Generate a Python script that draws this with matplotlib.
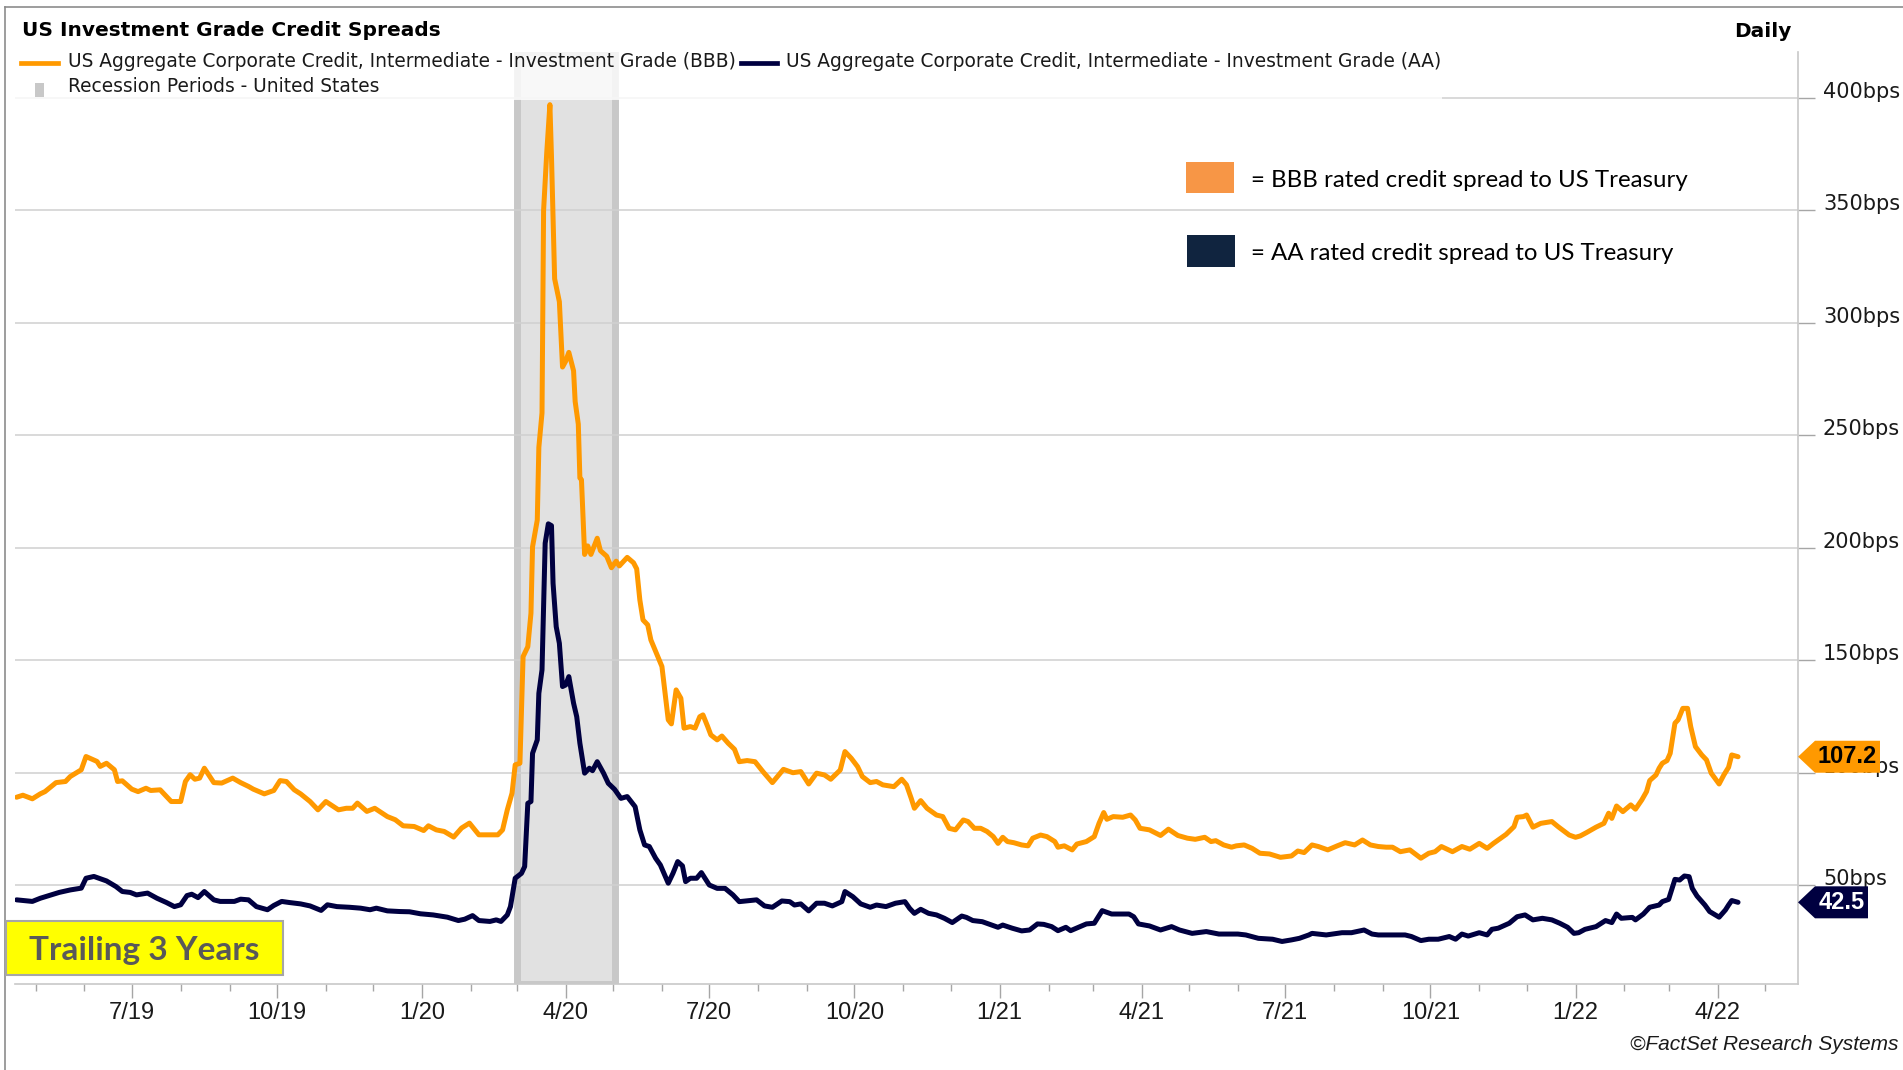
import matplotlib
matplotlib.use("Agg")
import matplotlib.pyplot as plt
import matplotlib.dates as mdates
import matplotlib.ticker as mticker
from matplotlib.patches import Rectangle, Polygon
from matplotlib.lines import Line2D
import pandas as pd

plt.rcParams['font.family'] = ['Liberation Sans', 'DejaVu Sans']

# ---------------- data ----------------
bbb_dates = [
    "2019-04-19", "2019-04-23", "2019-04-29", "2019-05-04", "2019-05-07", "2019-05-11", "2019-05-14",
    "2019-05-20", "2019-05-23", "2019-05-30", "2019-06-02", "2019-06-09", "2019-06-11", "2019-06-15",
    "2019-06-20", "2019-06-22", "2019-06-25", "2019-07-01", "2019-07-05", "2019-07-10", "2019-07-13",
    "2019-07-19", "2019-07-26", "2019-08-01", "2019-08-04", "2019-08-07", "2019-08-10", "2019-08-13",
    "2019-08-16", "2019-08-22", "2019-08-27", "2019-09-03", "2019-09-08", "2019-09-13", "2019-09-16",
    "2019-09-23", "2019-09-29", "2019-10-03", "2019-10-07", "2019-10-12", "2019-10-16", "2019-10-22",
    "2019-10-27", "2019-11-01", "2019-11-09", "2019-11-14", "2019-11-18", "2019-11-21", "2019-11-27",
    "2019-12-02", "2019-12-10", "2019-12-15", "2019-12-20", "2019-12-27", "2020-01-02", "2020-01-05",
    "2020-01-10", "2020-01-15", "2020-01-21", "2020-01-26", "2020-01-31", "2020-02-06", "2020-02-12",
    "2020-02-18", "2020-02-21", "2020-02-24", "2020-02-27", "2020-02-29", "2020-03-03", "2020-03-05",
    "2020-03-08", "2020-03-10", "2020-03-11", "2020-03-14", "2020-03-15", "2020-03-17", "2020-03-18",
    "2020-03-20", "2020-03-22", "2020-03-23", "2020-03-25", "2020-03-28", "2020-03-30", "2020-04-01",
    "2020-04-03", "2020-04-06", "2020-04-07", "2020-04-09", "2020-04-10", "2020-04-11", "2020-04-13",
    "2020-04-15", "2020-04-17", "2020-04-21", "2020-04-23", "2020-04-27", "2020-04-30", "2020-05-03",
    "2020-05-05", "2020-05-10", "2020-05-14", "2020-05-16", "2020-05-18", "2020-05-20", "2020-05-23",
    "2020-05-25", "2020-05-29", "2020-06-01", "2020-06-03", "2020-06-05", "2020-06-07", "2020-06-10",
    "2020-06-13", "2020-06-15", "2020-06-19", "2020-06-22", "2020-06-25", "2020-06-27", "2020-06-30",
    "2020-07-02", "2020-07-06", "2020-07-09", "2020-07-13", "2020-07-17", "2020-07-20", "2020-07-25",
    "2020-07-30", "2020-08-04", "2020-08-10", "2020-08-17", "2020-08-23", "2020-08-28", "2020-09-02",
    "2020-09-07", "2020-09-12", "2020-09-16", "2020-09-22", "2020-09-25", "2020-09-29", "2020-10-03",
    "2020-10-06", "2020-10-11", "2020-10-15", "2020-10-19", "2020-10-26", "2020-10-31", "2020-11-03",
    "2020-11-06", "2020-11-08", "2020-11-12", "2020-11-16", "2020-11-22", "2020-11-26", "2020-11-30",
    "2020-12-04", "2020-12-09", "2020-12-12", "2020-12-16", "2020-12-20", "2020-12-24", "2020-12-28",
    "2020-12-31", "2021-01-03", "2021-01-06", "2021-01-10", "2021-01-15", "2021-01-19", "2021-01-22",
    "2021-01-27", "2021-01-31", "2021-02-05", "2021-02-07", "2021-02-11", "2021-02-16", "2021-02-19",
    "2021-02-25", "2021-03-02", "2021-03-05", "2021-03-08", "2021-03-10", "2021-03-14", "2021-03-20",
    "2021-03-25", "2021-03-28", "2021-03-31", "2021-04-06", "2021-04-13", "2021-04-18", "2021-04-24",
    "2021-04-30", "2021-05-05", "2021-05-11", "2021-05-15", "2021-05-18", "2021-05-23", "2021-05-28",
    "2021-05-31", "2021-06-05", "2021-06-10", "2021-06-15", "2021-06-21", "2021-06-28", "2021-07-05",
    "2021-07-09", "2021-07-13", "2021-07-18", "2021-07-22", "2021-07-28", "2021-08-03", "2021-08-08",
    "2021-08-14", "2021-08-19", "2021-08-24", "2021-08-29", "2021-09-03", "2021-09-07", "2021-09-12",
    "2021-09-18", "2021-09-25", "2021-09-30", "2021-10-04", "2021-10-08", "2021-10-15", "2021-10-21",
    "2021-10-26", "2021-11-01", "2021-11-06", "2021-11-10", "2021-11-13", "2021-11-18", "2021-11-23",
    "2021-11-25", "2021-11-29", "2021-12-01", "2021-12-05", "2021-12-10", "2021-12-17", "2021-12-21",
    "2021-12-28", "2022-01-01", "2022-01-04", "2022-01-08", "2022-01-14", "2022-01-19", "2022-01-22",
    "2022-01-24", "2022-01-27", "2022-01-31", "2022-02-05", "2022-02-08", "2022-02-12", "2022-02-15",
    "2022-02-17", "2022-02-21", "2022-02-23", "2022-02-25", "2022-02-28", "2022-03-02", "2022-03-05",
    "2022-03-07", "2022-03-10", "2022-03-13", "2022-03-15", "2022-03-18", "2022-03-22", "2022-03-25",
    "2022-03-28", "2022-04-02", "2022-04-05", "2022-04-08", "2022-04-10", "2022-04-14",
]
bbb_values = [
    89.2, 90.1, 88.5, 90.7, 91.7, 94.0, 95.7,
    96.2, 98.4, 101.4, 107.3, 105.1, 102.9, 104.3,
    101.4, 96.2, 96.5, 92.8, 91.7, 93.2, 92.2,
    92.5, 87.3, 87.3, 96.2, 99.2, 97.2, 97.7,
    102.1, 95.7, 95.5, 97.7, 95.7, 94.0, 92.8,
    90.7, 92.2, 96.6, 96.2, 92.5, 90.7, 87.3,
    83.6, 87.3, 83.6, 84.3, 84.3, 86.6, 82.9,
    84.3, 80.6, 79.2, 76.5, 76.2, 74.4, 76.5,
    74.7, 74.0, 71.5, 75.5, 77.7, 72.5, 72.5,
    72.5, 74.7, 83.6, 91.0, 103.6, 104.3, 151.7,
    156.1, 171.0, 200.5, 212.4, 244.7, 260.0, 350.0,
    375.7, 397.0, 374.0, 319.6, 309.4, 280.4, 283.0,
    286.9, 278.7, 265.1, 255.0, 231.1, 230.3, 197.1,
    200.9, 197.1, 204.3, 198.8, 196.3, 191.2, 194.1,
    192.0, 195.8, 193.4, 190.7, 176.9, 168.0, 165.8,
    159.1, 152.4, 147.3, 135.4, 123.6, 121.8, 136.9,
    133.2, 119.9, 120.6, 119.9, 125.0, 125.8, 120.6,
    116.9, 114.7, 116.4, 113.2, 110.5, 105.0, 105.5,
    105.0, 100.6, 95.7, 101.6, 100.1, 100.6, 95.1,
    99.9, 99.1, 97.2, 101.3, 109.5, 106.5, 102.8,
    98.4, 95.7, 96.2, 94.7, 93.9, 97.2, 94.7,
    88.7, 84.3, 87.7, 84.3, 81.3, 80.6, 75.4,
    74.7, 79.1, 78.4, 75.4, 75.4, 74.0, 71.7,
    68.7, 71.4, 69.5, 69.0, 68.0, 67.6, 71.0,
    72.4, 71.7, 69.5, 67.0, 67.6, 65.8, 68.4,
    69.5, 71.7, 77.6, 82.4, 79.4, 80.6, 80.3,
    81.3, 79.1, 75.4, 74.7, 72.2, 75.0, 72.2,
    71.0, 70.5, 71.4, 69.5, 69.9, 68.0, 67.0,
    67.6, 68.0, 66.5, 64.3, 64.0, 62.5, 63.1,
    65.3, 64.6, 68.0, 67.3, 65.8, 67.6, 69.0,
    68.0, 70.2, 68.0, 67.3, 67.0, 67.0, 65.0,
    65.8, 62.1, 64.3, 65.0, 67.3, 65.0, 67.3,
    66.1, 68.7, 66.5, 68.7, 70.2, 72.7, 76.1,
    80.3, 80.6, 81.3, 75.9, 77.6, 78.4, 76.1,
    72.4, 71.4, 72.0, 73.5, 75.9, 77.6, 82.1,
    79.8, 85.3, 82.8, 85.8, 83.9, 88.0, 91.7,
    96.6, 99.1, 102.1, 104.3, 105.5, 108.7, 122.1,
    123.6, 128.7, 128.7, 120.6, 111.7, 108.0, 105.8,
    99.9, 95.1, 99.1, 102.5, 108.0, 107.2,
]

aa_dates = [
    "2019-04-19", "2019-04-29", "2019-05-04", "2019-05-11", "2019-05-16", "2019-05-23", "2019-05-30",
    "2019-06-02", "2019-06-07", "2019-06-15", "2019-06-21", "2019-06-25", "2019-06-30", "2019-07-04",
    "2019-07-11", "2019-07-17", "2019-07-23", "2019-07-28", "2019-08-01", "2019-08-05", "2019-08-08",
    "2019-08-12", "2019-08-16", "2019-08-22", "2019-08-26", "2019-09-04", "2019-09-08", "2019-09-13",
    "2019-09-18", "2019-09-25", "2019-09-29", "2019-10-04", "2019-10-09", "2019-10-16", "2019-10-22",
    "2019-10-29", "2019-11-02", "2019-11-08", "2019-11-16", "2019-11-23", "2019-11-29", "2019-12-03",
    "2019-12-10", "2019-12-18", "2019-12-24", "2019-12-31", "2020-01-08", "2020-01-17", "2020-01-24",
    "2020-01-28", "2020-02-02", "2020-02-06", "2020-02-13", "2020-02-17", "2020-02-20", "2020-02-24",
    "2020-02-26", "2020-02-29", "2020-03-04", "2020-03-06", "2020-03-08", "2020-03-10", "2020-03-11",
    "2020-03-14", "2020-03-15", "2020-03-17", "2020-03-19", "2020-03-21", "2020-03-23", "2020-03-24",
    "2020-03-26", "2020-03-28", "2020-03-30", "2020-04-01", "2020-04-03", "2020-04-06", "2020-04-08",
    "2020-04-10", "2020-04-13", "2020-04-16", "2020-04-18", "2020-04-21", "2020-04-25", "2020-04-28",
    "2020-05-02", "2020-05-06", "2020-05-10", "2020-05-15", "2020-05-18", "2020-05-21", "2020-05-24",
    "2020-05-28", "2020-05-31", "2020-06-05", "2020-06-08", "2020-06-11", "2020-06-14", "2020-06-16",
    "2020-06-19", "2020-06-23", "2020-06-26", "2020-07-01", "2020-07-06", "2020-07-11", "2020-07-16",
    "2020-07-20", "2020-07-31", "2020-08-05", "2020-08-10", "2020-08-16", "2020-08-21", "2020-08-24",
    "2020-08-28", "2020-09-02", "2020-09-07", "2020-09-12", "2020-09-17", "2020-09-23", "2020-09-25",
    "2020-09-30", "2020-10-05", "2020-10-11", "2020-10-15", "2020-10-21", "2020-10-27", "2020-11-02",
    "2020-11-05", "2020-11-08", "2020-11-12", "2020-11-17", "2020-11-22", "2020-11-27", "2020-12-02",
    "2020-12-08", "2020-12-11", "2020-12-15", "2020-12-21", "2020-12-25", "2020-12-31", "2021-01-03",
    "2021-01-09", "2021-01-15", "2021-01-20", "2021-01-25", "2021-01-29", "2021-02-03", "2021-02-07",
    "2021-02-12", "2021-02-15", "2021-02-21", "2021-02-25", "2021-03-02", "2021-03-07", "2021-03-13",
    "2021-03-18", "2021-03-24", "2021-03-27", "2021-03-30", "2021-04-06", "2021-04-13", "2021-04-20",
    "2021-04-25", "2021-05-03", "2021-05-12", "2021-05-20", "2021-06-01", "2021-06-06", "2021-06-14",
    "2021-06-23", "2021-06-29", "2021-07-05", "2021-07-10", "2021-07-16", "2021-07-18", "2021-07-27",
    "2021-08-06", "2021-08-12", "2021-08-20", "2021-08-25", "2021-08-29", "2021-09-07", "2021-09-15",
    "2021-09-19", "2021-09-25", "2021-09-30", "2021-10-06", "2021-10-13", "2021-10-17", "2021-10-21",
    "2021-10-25", "2021-11-01", "2021-11-06", "2021-11-09", "2021-11-13", "2021-11-20", "2021-11-25",
    "2021-11-30", "2021-12-05", "2021-12-11", "2021-12-17", "2021-12-22", "2021-12-27", "2021-12-31",
    "2022-01-03", "2022-01-07", "2022-01-14", "2022-01-20", "2022-01-24", "2022-01-27", "2022-01-30",
    "2022-02-06", "2022-02-08", "2022-02-13", "2022-02-17", "2022-02-23", "2022-02-25", "2022-03-01",
    "2022-03-05", "2022-03-08", "2022-03-11", "2022-03-14", "2022-03-16", "2022-03-19", "2022-03-24",
    "2022-03-27", "2022-04-02", "2022-04-06", "2022-04-08", "2022-04-10", "2022-04-14",
]
aa_values = [
    43.6, 42.9, 44.3, 45.8, 46.9, 48.0, 48.8,
    53.2, 54.0, 52.0, 49.5, 47.3, 46.9, 45.8,
    46.6, 44.3, 42.4, 40.6, 41.4, 45.5, 46.1,
    44.6, 47.3, 43.6, 42.9, 42.9, 43.9, 43.6,
    40.6, 39.2, 41.1, 42.9, 42.4, 41.8, 40.9,
    38.9, 41.4, 40.6, 40.3, 39.9, 39.2, 39.9,
    38.7, 38.4, 38.3, 37.4, 36.9, 35.9, 34.4,
    35.0, 36.6, 34.4, 34.0, 34.7, 34.0, 36.9,
    40.6, 53.2, 55.4, 58.4, 86.5, 87.3, 108.7,
    114.7, 135.4, 145.8, 202.1, 210.7, 209.9, 184.3,
    165.0, 157.6, 138.4, 139.1, 142.8, 131.0, 125.0,
    113.2, 99.9, 102.1, 101.0, 105.0, 99.9, 95.4,
    92.7, 88.7, 89.5, 85.0, 74.7, 68.0, 67.3,
    62.1, 59.1, 51.0, 55.4, 60.6, 58.7, 51.7,
    53.2, 53.2, 55.7, 50.2, 48.7, 48.7, 45.8,
    42.8, 43.6, 40.9, 40.3, 43.1, 42.8, 41.3,
    41.8, 38.7, 42.1, 42.1, 40.9, 42.8, 47.3,
    45.0, 41.8, 40.3, 41.3, 40.6, 42.1, 42.8,
    39.8, 37.6, 39.4, 37.6, 36.9, 35.4, 33.5,
    36.4, 35.8, 34.4, 33.9, 32.9, 31.4, 32.4,
    31.0, 29.8, 30.2, 32.9, 32.7, 31.7, 29.9,
    31.4, 29.9, 31.7, 32.9, 33.2, 38.8, 37.3,
    37.3, 37.3, 36.1, 32.9, 32.0, 30.2, 31.7,
    30.2, 28.7, 29.5, 28.4, 28.4, 28.0, 26.5,
    26.1, 25.1, 25.8, 26.5, 28.0, 28.7, 28.0,
    29.0, 29.0, 30.2, 28.4, 28.0, 28.0, 28.0,
    27.3, 25.5, 26.1, 26.1, 27.3, 26.1, 28.4,
    27.5, 29.0, 28.0, 30.5, 31.0, 33.2, 36.1,
    36.9, 34.7, 35.4, 34.7, 33.2, 31.4, 28.7,
    29.0, 30.5, 31.7, 34.4, 33.5, 37.3, 35.4,
    35.8, 34.7, 37.3, 40.3, 41.3, 42.8, 43.8,
    52.7, 52.4, 54.2, 53.9, 48.7, 45.3, 41.3,
    38.4, 35.9, 39.1, 41.3, 43.3, 42.5,
]

recession_start = "2020-03-01"
recession_end = "2020-05-02"
ytick_values = [50, 100, 150, 200, 250, 300, 350, 400]
x_start, x_end = "2019-04-18", "2022-05-22"
y_min, y_max = 6.2, 420.4

title = "US Investment Grade Credit Spreads"
bbb_label = "US Aggregate Corporate Credit, Intermediate - Investment Grade (BBB)"
aa_label = "US Aggregate Corporate Credit, Intermediate - Investment Grade (AA)"
rec_label = "Recession Periods - United States"
bbb_note = "= BBB rated credit spread to US Treasury"
aa_note = "= AA rated credit spread to US Treasury"

# ---------------- style ----------------
ORANGE = "#FF9900"
NAVY = "#000040"
W, H = 1903, 1070


def fx(x):
    return x / W


def fy(y):
    return 1 - y / H


fig = plt.figure(figsize=(W / 100, H / 100), dpi=100)
ax = fig.add_axes([fx(15), fy(984), fx(1798) - fx(15), fy(52) - fy(984)])

bbb = pd.Series(bbb_values, index=pd.to_datetime(bbb_dates))
aa = pd.Series(aa_values, index=pd.to_datetime(aa_dates))

ax.axvspan(pd.Timestamp(recession_start), pd.Timestamp(recession_end),
           facecolor="#E1E1E1", edgecolor="#C8C8C8", linewidth=5, zorder=1)

ax.plot(bbb.index, bbb.values, color=ORANGE, lw=3.6, zorder=3,
        solid_joinstyle="round", solid_capstyle="round")
ax.plot(aa.index, aa.values, color=NAVY, lw=3.6, zorder=3,
        solid_joinstyle="round", solid_capstyle="round")

ax.set_xlim(pd.Timestamp(x_start), pd.Timestamp(x_end))
ax.set_ylim(y_min, y_max)

# legend backdrop (semi-transparent white) at top of plot
ax.add_patch(Rectangle((0, (984 - 100) / 932), (1442 - 15) / 1783, 1,
                       transform=ax.transAxes, facecolor="white", alpha=0.8,
                       edgecolor="none", zorder=1.7, clip_on=True))

# grid & spines
ax.yaxis.grid(True, color="#D0D0D0", lw=1.1)
ax.xaxis.grid(False)
for s in ["left", "top"]:
    ax.spines[s].set_visible(False)
for s in ["bottom", "right"]:
    ax.spines[s].set_color("#C8C8C8")
    ax.spines[s].set_linewidth(1.2)

# y axis on right
ax.yaxis.tick_right()
ax.set_yticks(ytick_values, labels=[f"{v}bps" for v in ytick_values])
ax.tick_params(axis="y", length=12, width=1, color="#A6A6A6", pad=6,
               labelsize=15, labelcolor="#1A1A1A", labelfontfamily="DejaVu Sans")
for lab in ax.get_yticklabels():
    lab.set_va("baseline")

# x axis
ax.xaxis.set_major_locator(mdates.MonthLocator(bymonth=[1, 4, 7, 10]))
ax.xaxis.set_minor_locator(mdates.MonthLocator())
ax.xaxis.set_major_formatter(mticker.FuncFormatter(
    lambda v, pos: f"{mdates.num2date(v).month}/{mdates.num2date(v):%y}"))
ax.tick_params(axis="x", which="major", length=10, width=1, color="#A6A6A6",
               pad=3, labelsize=17, labelcolor="#1A1A1A")
ax.tick_params(axis="x", which="minor", length=5, width=1, color="#A6A6A6")

# end-value tags
ytrans = ax.get_yaxis_transform()
axw = 1783.0


def tag(value, fill, tcolor, width_px):
    head = 17 / axw
    w = width_px / axw
    h = 16 / 2.25
    verts = [(1.0, value), (1.0 + head, value + h), (1.0 + w, value + h),
             (1.0 + w, value - h), (1.0 + head, value - h)]
    ax.add_patch(Polygon(verts, closed=True, transform=ytrans, facecolor=fill,
                         edgecolor="none", clip_on=False, zorder=10))
    ax.text(1.0 + w - 3 / axw, value, f"{value:.1f}", transform=ytrans,
            ha="right", va="center", color=tcolor, fontsize=17,
            fontweight="bold", zorder=11, clip_on=False)


tag(bbb.values[-1], ORANGE, "black", 82)
tag(aa.values[-1], NAVY, "white", 70)

# ---------------- figure decorations ----------------
fig.add_artist(Line2D([fx(5), 1], [fy(7), fy(7)], color="#8C8C8C", lw=1.2))
fig.add_artist(Line2D([fx(5), fx(5)], [fy(7), 0], color="#8C8C8C", lw=1.2))

fig.text(fx(22), fy(36), title, fontsize=14.5, fontweight="bold",
         family="DejaVu Sans", va="baseline", ha="left")
fig.text(fx(1792), fy(37), "Daily", fontsize=14.5, fontweight="bold",
         family="DejaVu Sans", va="baseline", ha="right")

fig.add_artist(Line2D([fx(21), fx(58)], [fy(63), fy(63)], color=ORANGE, lw=3.4))
fig.text(fx(68), fy(67), bbb_label, fontsize=13.4, family="DejaVu Sans",
         va="baseline", ha="left", color="#1A1A1A")
fig.add_artist(Line2D([fx(741), fx(777)], [fy(63), fy(63)], color=NAVY, lw=3.4))
fig.text(fx(786), fy(67), aa_label, fontsize=13.4, family="DejaVu Sans",
         va="baseline", ha="left", color="#1A1A1A")
fig.add_artist(Rectangle((fx(35), fy(97)), fx(9), 14 / H, transform=fig.transFigure,
                         facecolor="#C8C8C8", edgecolor="none"))
fig.text(fx(68), fy(92), rec_label, fontsize=13.4, family="DejaVu Sans",
         va="baseline", ha="left", color="#1A1A1A")

# annotation keys
fig.add_artist(Rectangle((fx(1186), fy(193)), fx(48), 31 / H, transform=fig.transFigure,
                         facecolor="#F79646", edgecolor="none"))
fig.add_artist(Rectangle((fx(1187), fy(267)), fx(48), 32 / H, transform=fig.transFigure,
                         facecolor="#10243F", edgecolor="none"))
fig.text(fx(1251), fy(187), bbb_note, fontsize=17.3, family="Lato",
         va="baseline", ha="left", color="black")
fig.text(fx(1251), fy(260), aa_note, fontsize=17.3, family="Lato",
         va="baseline", ha="left", color="black")

# Trailing 3 Years box
fig.add_artist(Rectangle((fx(6), fy(975)), fx(277), 54 / H, transform=fig.transFigure,
                         facecolor="#FFFF00", edgecolor="#A6A6A6", lw=1.5, zorder=5))
fig.text(fx(144), fy(960), "Trailing 3 Years", fontsize=24, family="Lato",
         fontweight="bold", color="#595959", va="baseline", ha="center", zorder=6)

fig.text(fx(1898), fy(1050), "\u00a9FactSet Research Systems", fontsize=15,
         style="italic", va="baseline", ha="right", color="#1A1A1A")

fig.savefig("out.png", dpi=100, facecolor="white")
